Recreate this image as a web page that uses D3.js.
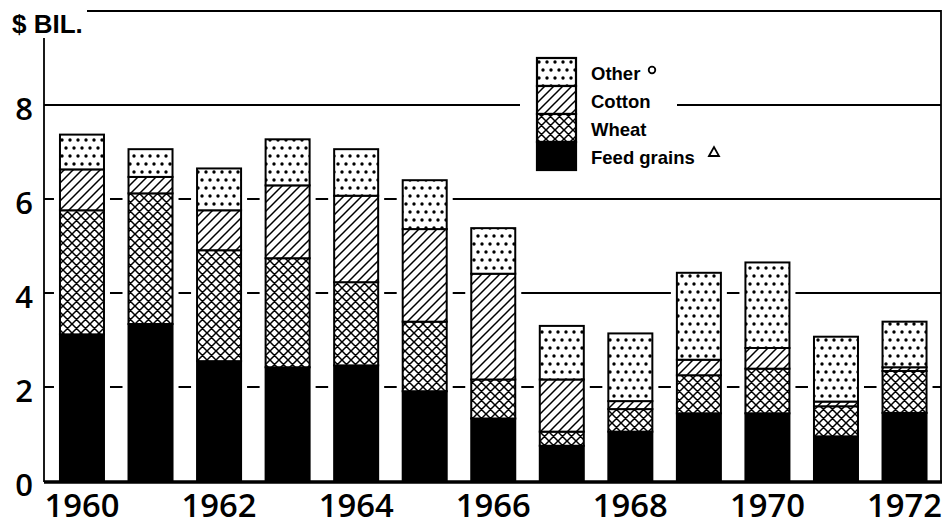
<!DOCTYPE html>
<html>
<head>
<meta charset="utf-8">
<script src="https://cdn.jsdelivr.net/npm/d3@7"></script>
<style>
  body { margin: 0; background: #fff; }
  svg { display: block; }
  text { font-family: "Liberation Sans", Arial, sans-serif; font-weight: 700; fill: #000; }
</style>
</head>
<body>
<svg id="chart" width="945" height="527"></svg>
<script>
// Data ($ billion)
const years = [1960, 1961, 1962, 1963, 1964, 1965, 1966, 1967, 1968, 1969, 1970, 1971, 1972];
const feedGrains = [3.12, 3.34, 2.55, 2.42, 2.46, 1.91, 1.33, 0.75, 1.05, 1.44, 1.44, 0.95, 1.45];
const wheat = [2.64, 2.78, 2.36, 2.32, 1.77, 1.48, 0.83, 0.30, 0.48, 0.81, 0.95, 0.64, 0.89];
const cotton = [0.87, 0.35, 0.85, 1.55, 1.84, 1.97, 2.25, 1.11, 0.17, 0.33, 0.44, 0.10, 0.08];
const other = [0.74, 0.59, 0.89, 0.98, 0.99, 1.04, 0.97, 1.14, 1.44, 1.85, 1.82, 1.38, 0.97];
const keys = ['feed', 'wheat', 'cotton', 'other'];
const legendLabels = ['Other', 'Cotton', 'Wheat', 'Feed grains'];
const yTicks = [0, 2, 4, 6, 8];
const yearLabels = [1960, 1962, 1964, 1966, 1968, 1970, 1972];

const rows = years.map((yr, i) => ({
  year: yr, feed: feedGrains[i], wheat: wheat[i], cotton: cotton[i], other: other[i]
}));

const svg = d3.select('#chart');

// Patterns
const defs = svg.append('defs');
const dots = defs.append('pattern').attr('id', 'p-other')
  .attr('patternUnits', 'userSpaceOnUse').attr('width', 8).attr('height', 16);
dots.append('rect').attr('width', 8).attr('height', 16).attr('fill', '#fff');
dots.append('circle').attr('cx', 2).attr('cy', 4).attr('r', 1.7).attr('fill', '#000');
dots.append('circle').attr('cx', 6).attr('cy', 12).attr('r', 1.7).attr('fill', '#000');

const hatch = defs.append('pattern').attr('id', 'p-cotton')
  .attr('patternUnits', 'userSpaceOnUse').attr('width', 9).attr('height', 9);
hatch.append('rect').attr('width', 9).attr('height', 9).attr('fill', '#fff');
hatch.append('path').attr('d', 'M0,9L9,0M-2.25,2.25L2.25,-2.25M6.75,11.25L11.25,6.75')
  .attr('stroke', '#000').attr('stroke-width', 1.5);

const cross = defs.append('pattern').attr('id', 'p-wheat')
  .attr('patternUnits', 'userSpaceOnUse').attr('width', 9).attr('height', 9);
cross.append('rect').attr('width', 9).attr('height', 9).attr('fill', '#fff');
cross.append('path').attr('d', 'M0,0L9,9M9,0L0,9M-1,8L1,10M8,-1L10,1M-1,1L1,-1M8,10L10,8')
  .attr('stroke', '#000').attr('stroke-width', 1.5);

const fills = { feed: '#000', wheat: 'url(#p-wheat)', cotton: 'url(#p-cotton)', other: 'url(#p-other)' };

// Scales
const x = d3.scaleBand().domain(years).range([47.7, 938.8])
  .paddingInner(0.358).paddingOuter(0.179);
const y = d3.scaleLinear().domain([0, 8]).range([481, 105]);

const left = 44, right = 941;

// Gridlines
svg.append('g').selectAll('line')
  .data(yTicks.filter((d) => d > 0))
  .join('line')
  .attr('x1', left).attr('x2', right)
  .attr('y1', (d) => y(d)).attr('y2', (d) => y(d))
  .attr('stroke', '#000').attr('stroke-width', 2);

// White knockouts around bars and legend
const stacked = d3.stack().keys(keys)(rows);
const totals = rows.map((r) => keys.reduce((s, k) => s + r[k], 0));
svg.append('g').selectAll('rect')
  .data(rows)
  .join('rect')
  .attr('x', (d) => x(d.year) - 6)
  .attr('width', x.bandwidth() + 12)
  .attr('y', (d, i) => y(totals[i]) - 2)
  .attr('height', (d, i) => y(0) - y(totals[i]) + 2)
  .attr('fill', '#fff');

// Bars
const layer = svg.append('g').selectAll('g')
  .data(stacked)
  .join('g')
  .attr('fill', (d) => fills[d.key]);

layer.selectAll('rect')
  .data((d) => d)
  .join('rect')
  .attr('x', (d) => x(d.data.year))
  .attr('width', x.bandwidth())
  .attr('y', (d) => y(d[1]))
  .attr('height', (d) => y(d[0]) - y(d[1]))
  .attr('stroke', '#000')
  .attr('stroke-width', 2);

// Frame
svg.append('line').attr('x1', left).attr('x2', left).attr('y1', 38).attr('y2', 482)
  .attr('stroke', '#000').attr('stroke-width', 1.8);
svg.append('line').attr('x1', 87).attr('x2', right).attr('y1', 11).attr('y2', 11)
  .attr('stroke', '#000').attr('stroke-width', 1.8);
svg.append('line').attr('x1', right).attr('x2', right).attr('y1', 10).attr('y2', 482)
  .attr('stroke', '#000').attr('stroke-width', 1.8);
svg.append('line').attr('x1', left).attr('x2', right + 1).attr('y1', y(0) + 1).attr('y2', y(0) + 1)
  .attr('stroke', '#000').attr('stroke-width', 3.5);

svg.append('text').attr('x', 12).attr('y', 33).style('font-size', '26px').text('$ BIL.');

// Y axis labels
const yAxis = svg.append('g').attr('transform', `translate(${left},0)`)
  .call(d3.axisLeft(y).tickValues(yTicks).tickSize(0).tickPadding(11));
yAxis.select('.domain').remove();
yAxis.selectAll('text')
  .attr('dy', '0.46em')
  .style('font-family', '"Open Sans", "Liberation Sans", sans-serif')
  .style('font-weight', 600)
  .style('font-size', '31px');

// X axis labels
const xAxis = svg.append('g').attr('transform', `translate(0,${y(0)})`)
  .call(d3.axisBottom(x).tickValues(yearLabels).tickSize(0).tickPadding(13));
xAxis.select('.domain').remove();
xAxis.selectAll('text')
  .attr('textLength', 75)
  .attr('lengthAdjust', 'spacingAndGlyphs')
  .style('font-family', '"Open Sans", "Liberation Sans", sans-serif')
  .style('font-weight', 600)
  .style('font-size', '33px');

// Legend
svg.append('rect').attr('x', 520).attr('y', 50).attr('width', 157).attr('height', 126).attr('fill', '#fff');
const legendKeys = ['other', 'cotton', 'wheat', 'feed'];
const lg = svg.append('g').attr('transform', 'translate(537,58)');
lg.selectAll('rect')
  .data(legendKeys)
  .join('rect')
  .attr('x', 0).attr('y', (d, i) => i * 28)
  .attr('width', 39).attr('height', 28)
  .attr('fill', (d) => fills[d])
  .attr('stroke', '#000').attr('stroke-width', 2.2);
lg.selectAll('text')
  .data(legendLabels)
  .join('text')
  .attr('x', 54).attr('y', (d, i) => 22 + i * 28)
  .style('font-size', '18.5px')
  .text((d) => d);
lg.append('circle').attr('cx', 115).attr('cy', 12).attr('r', 3.3)
  .attr('fill', 'none').attr('stroke', '#000').attr('stroke-width', 1.8);
lg.append('path').attr('d', 'M172,98L177,89L182,98Z')
  .attr('fill', 'none').attr('stroke', '#000').attr('stroke-width', 1.8);
</script>
</body>
</html>
